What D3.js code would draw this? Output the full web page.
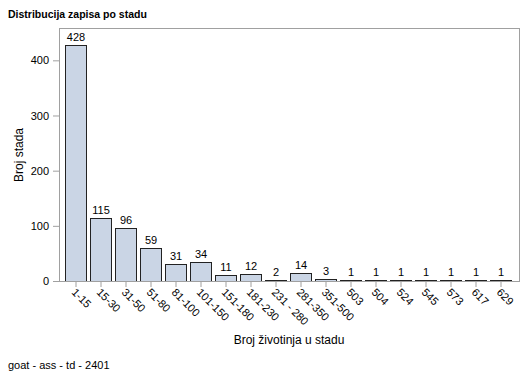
<!DOCTYPE html>
<html><head><meta charset="utf-8">
<script src="https://cdn.jsdelivr.net/npm/d3@7/dist/d3.min.js"></script>
<style>body{margin:0;background:#fff}svg{display:block}text{font-family:"Liberation Sans",Arial,sans-serif}</style>
</head><body><svg id="c" width="529" height="378"></svg>
<script>
const categories = ["1-15","15-30","31-50","51-80","81-100","101-150","151-180","181-230","231 - 280","281-350","351-500","503","504","524","545","573","617","629"];
const values = [428,115,96,59,31,34,11,12,2,14,3,1,1,1,1,1,1,1];
const yTicks = [0,100,200,300,400];

const svg = d3.select("#c");
const frame = {l:59, r:520, t:28, b:281};
const x = d3.scaleBand().domain(categories).range([63.5,513.5]).paddingInner(0.13).paddingOuter(0.065);
const y = d3.scaleLinear().domain([0,458.6]).range([frame.b, frame.t]);

svg.append("rect").attr("x",frame.l+0.5).attr("y",frame.t+0.5).attr("width",frame.r-frame.l-1).attr("height",frame.b-frame.t)
  .attr("fill","none").attr("stroke","#a0a0a0");

// bars
svg.selectAll("rect.bar").data(values).enter().append("rect").attr("class","bar")
  .attr("x",(d,i)=>Math.round(x(categories[i]))+0.5)
  .attr("y",d=>Math.round(y(d))+0.5)
  .attr("width",Math.round(x.bandwidth())-1)
  .attr("height",d=>Math.max(0,Math.round(y(0))-Math.round(y(d))))
  .attr("fill","#cad5e5").attr("stroke","#222").attr("stroke-width",1);

svg.selectAll("text.lbl").data(values).enter().append("text").attr("class","lbl")
  .attr("x",(d,i)=>x(categories[i])+x.bandwidth()/2)
  .attr("y",d=>y(d)-4).attr("text-anchor","middle").attr("font-size",11).attr("fill","#000")
  .text(d=>d);

// y axis
const ya = svg.append("g").attr("transform",`translate(${frame.l},0)`)
  .call(d3.axisLeft(y).tickValues(yTicks).tickSize(6).tickPadding(4).tickSizeOuter(0));
ya.select(".domain").remove();
ya.selectAll(".tick line").attr("stroke","#a0a0a0");
ya.selectAll(".tick text").attr("font-size",11).attr("fill","#000").style("font-family","Liberation Sans, Arial, sans-serif");

// x axis
const xa = svg.append("g").attr("transform",`translate(0,${frame.b})`)
  .call(d3.axisBottom(x).tickSize(6).tickSizeOuter(0));
xa.select(".domain").attr("stroke","#a0a0a0");
xa.selectAll(".tick line").attr("stroke","#a0a0a0");
xa.selectAll(".tick text").attr("font-size",11).attr("fill","#000").style("font-family","Liberation Sans, Arial, sans-serif")
  .attr("text-anchor","start").attr("dy",null).attr("y",0)
  .attr("transform","translate(-5,12) rotate(45)");

svg.append("text").attr("transform","translate(23,155) rotate(-90)").attr("text-anchor","middle")
  .attr("font-size",12).text("Broj stada");
svg.append("text").attr("x",289).attr("y",344).attr("text-anchor","middle").attr("font-size",12).text("Broj životinja u stadu");
svg.append("text").attr("x",8).attr("y",18).attr("font-size",10.5).attr("font-weight","bold").text("Distribucija zapisa po stadu");
svg.append("text").attr("x",8).attr("y",369).attr("font-size",11).text("goat - ass - td - 2401");
</script></body></html>
